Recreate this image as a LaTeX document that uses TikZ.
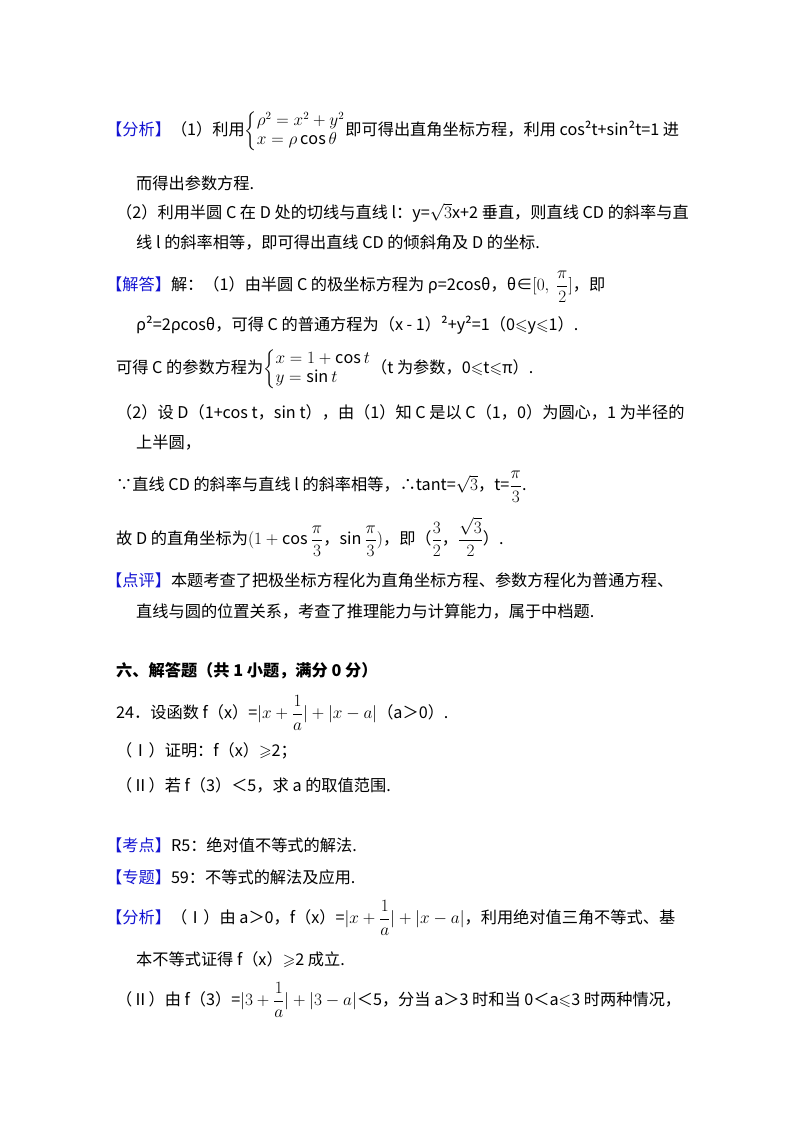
\documentclass[tikz,border=0pt]{standalone}
\usepackage{fontspec}
\usepackage{amsmath,amssymb}
\setmainfont{Noto Sans CJK SC}
\definecolor{kblue}{RGB}{20,20,210}
\tikzset{ln/.style={anchor=west,inner sep=0pt,font=\fontsize{16.2}{19}\selectfont},
 tag/.style={text=kblue}}
\newcommand{\tg}[1]{\textcolor{kblue}{【#1】}}
\newcommand{\kle}{$\leqslant$}
\newcommand{\kge}{$\geqslant$}
\begin{document}
\begin{tikzpicture}[x=1pt,y=-1pt]
\useasboundingbox (0,0) rectangle (800,1133);
\node[ln] (l1) at (106,131) {\tg{分析}（1）利用$\left\{\begin{array}{@{}l@{}}\rho^{2}=x^{2}+y^{2}\\ x=\rho\cos\theta\end{array}\right.$即可得出直角坐标方程，利用 cos²t+sin²t=1 进};
\node[ln] (l2) at (136,183) {而得出参数方程.};
\node[ln] (l3) at (116,213) {（2）利用半圆 C 在 D 处的切线与直线 l：y=$\sqrt{3}$x+2 垂直，则直线 CD 的斜率与直};
\node[ln] (l4) at (136,243) {线 l 的斜率相等，即可得出直线 CD 的倾斜角及 D 的坐标.};
\node[ln] (l5) at (106,287) {\tg{解答}解：（1）由半圆 C 的极坐标方程为 ρ=2cosθ，θ∈$[0,\ \dfrac{\pi}{2}]$，即};
\node[ln] (l6) at (136,325) {ρ²=2ρcosθ，可得 C 的普通方程为（x - 1）²+y²=1（0\kle y\kle 1）.};
\node[ln] (l7) at (116,369) {可得 C 的参数方程为$\left\{\begin{array}{@{}l@{}}x=1+\cos t\\ y=\sin t\end{array}\right.$（t 为参数，0\kle t\kle π）.};
\node[ln] (l8) at (116,412) {（2）设 D（1+cos t，sin t），由（1）知 C 是以 C（1，0）为圆心，1 为半径的};
\node[ln] (l9) at (136,443) {上半圆，};
\node[ln] (l10) at (116,487) {∵直线 CD 的斜率与直线 l 的斜率相等，∴tant=$\sqrt{3}$，t=$\dfrac{\pi}{3}$.};
\node[ln] (l11) at (116,537) {故 D 的直角坐标为$(1+\cos\dfrac{\pi}{3}$，$\sin\dfrac{\pi}{3})$，即（$\dfrac{3}{2}$，$\dfrac{\sqrt{3}}{2}$）.};
\node[ln] (l12) at (106,580) {\tg{点评}本题考查了把极坐标方程化为直角坐标方程、参数方程化为普通方程、};
\node[ln] (l13) at (136,611) {直线与圆的位置关系，考查了推理能力与计算能力，属于中档题.};
\node[ln,font=\fontsize{16.2}{19}\selectfont\bfseries] (l14) at (116,671) {六、解答题（共 1 小题，满分 0 分）};
\node[ln] (l15) at (116,713) {24．设函数 f（x）=$|x+\dfrac{1}{a}|+|x-a|$（a＞0）.};
\node[ln] (l16) at (116,751) {（Ⅰ）证明：f（x）\kge 2；};
\node[ln] (l17) at (116,785) {（Ⅱ）若 f（3）＜5，求 a 的取值范围.};
\node[ln] (l18) at (106,845) {\tg{考点}R5：绝对值不等式的解法.};
\node[ln] (l19) at (106,877) {\tg{专题}59：不等式的解法及应用.};
\node[ln] (l20) at (106,918) {\tg{分析}（Ⅰ）由 a＞0，f（x）=$|x+\dfrac{1}{a}|+|x-a|$，利用绝对值三角不等式、基};
\node[ln] (l21) at (136,960) {本不等式证得 f（x）\kge 2 成立.};
\node[ln] (l22) at (116,1000) {（Ⅱ）由 f（3）=$|3+\dfrac{1}{a}|+|3-a|$＜5，分当 a＞3 时和当 0＜a\kle 3 时两种情况，};
\end{tikzpicture}
\end{document}
